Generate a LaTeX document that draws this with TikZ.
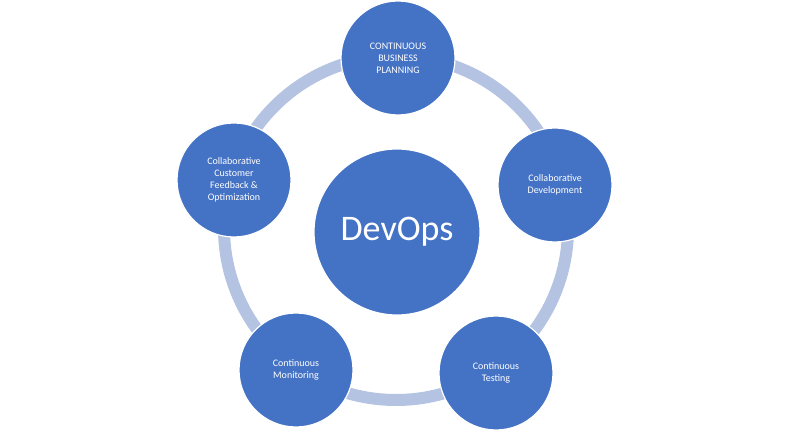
\documentclass[tikz,border=0pt]{standalone}
\usepackage{fontspec}
\setmainfont{Carlito}
\begin{document}
\begin{tikzpicture}[x=1pt,y=-1pt,
  stage/.style={circle,fill={rgb,255:red,68;green,114;blue,196},draw=white,line width=1.2pt,minimum size=114pt,inner sep=0pt,text=white,font=\fontsize{10}{12}\selectfont,align=center},
  core/.style={circle,fill={rgb,255:red,68;green,114;blue,196},draw=white,line width=1.2pt,minimum size=166pt,text=white,font=\fontsize{36}{40}\selectfont}]
\useasboundingbox (0,0) rectangle (786,443);
\coordinate (c) at (396,228);
\draw[line width=12pt,draw={rgb,255:red,180;green,195;blue,226}] (c) circle (172);
\node[core] (dev) at (397,232) {DevOps};
\node[stage] (top) at (398,58) {CONTINUOUS\\BUSINESS\\PLANNING};
\node[stage] (right) at (555,185) {Collaborative\\Development};
\node[stage] (br) at (496,373) {Continuous\\Testing};
\node[stage] (bl) at (296,370) {Continuous\\Monitoring};
\node[stage] (left) at (234,180) {Collaborative\\Customer\\Feedback \&\\Optimization};
\end{tikzpicture}
\end{document}
